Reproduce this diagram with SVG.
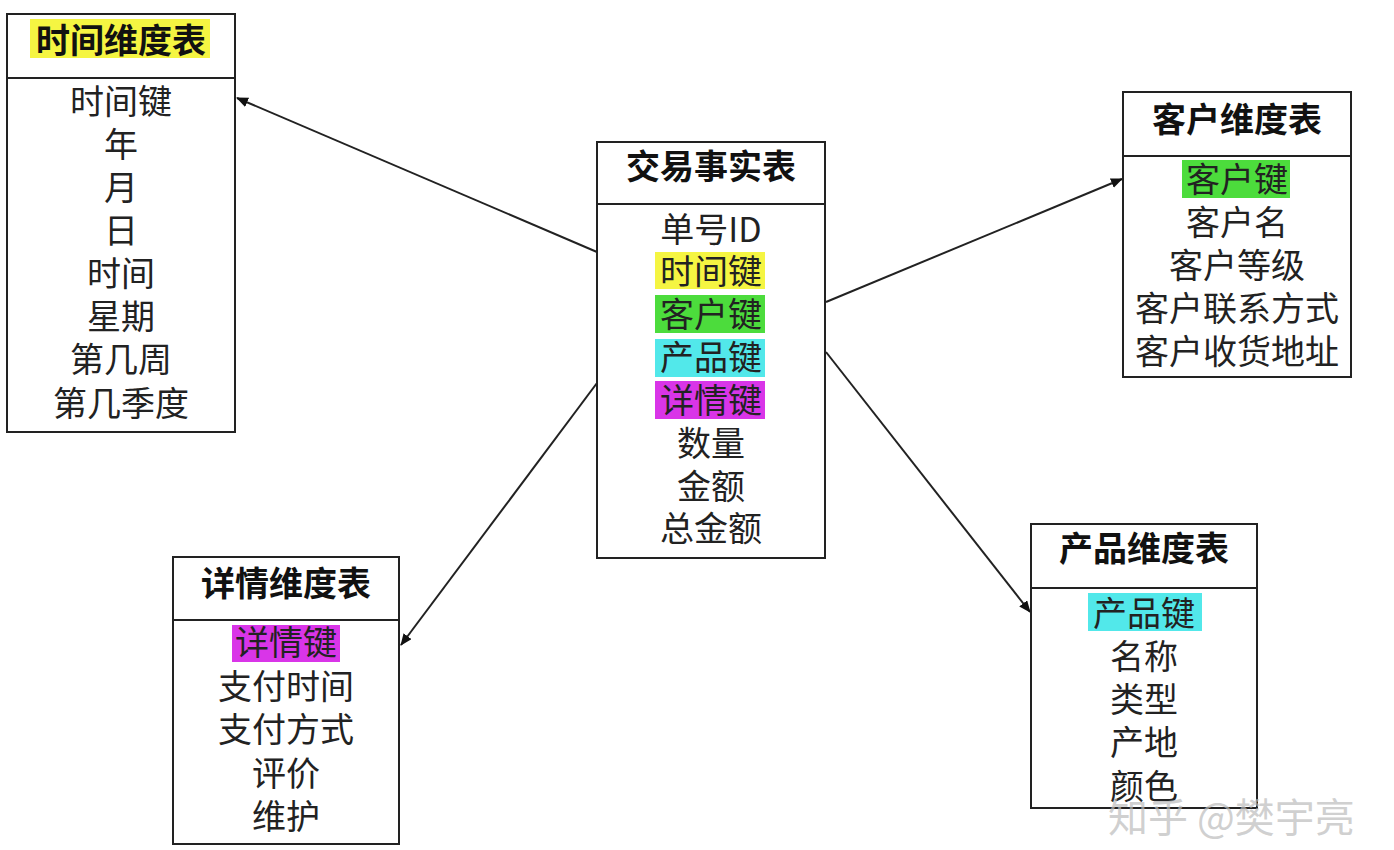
<svg xmlns="http://www.w3.org/2000/svg" width="1394" height="850" viewBox="0 0 1394 850">
<style>
.box{fill:#fff;stroke:#222;stroke-width:2}
.div{stroke:#222;stroke-width:2}
.t{font-family:"Noto Sans CJK SC","Noto Sans",sans-serif;font-size:34px;font-weight:bold;fill:#111;text-anchor:middle;dominant-baseline:central}
.r{font-family:"Noto Sans CJK SC","Noto Sans",sans-serif;font-size:34px;fill:#222;text-anchor:middle;dominant-baseline:central}
.c{stroke:#222;stroke-width:2;fill:none;marker-end:url(#ah)}
.wm{font-family:"Noto Sans CJK SC",sans-serif;font-size:40px;fill:#bbb;fill-opacity:0.7}
</style>
<defs>
<marker id="ah" markerWidth="12" markerHeight="10" refX="11" refY="5" orient="auto" markerUnits="userSpaceOnUse">
<path d="M0,0 L12,5 L0,10 Z" fill="#111"/>
</marker>
</defs>
<rect width="1394" height="850" fill="#fff"/>
<g id="connectors">
<line class="c" x1="597" y1="252" x2="237" y2="98"/>
<line class="c" x1="826" y1="302" x2="1122" y2="179"/>
<line class="c" x1="597" y1="383" x2="401" y2="645"/>
<line class="c" x1="826" y1="352" x2="1030" y2="612"/>
</g>
<g id="time">
<rect class="box" x="7" y="14" width="228" height="418"/>
<line class="div" x1="7" y1="78" x2="235" y2="78"/>
<rect x="30" y="19" width="180" height="39" fill="#f5f542"/>
<text class="t" x="121" y="38">时间维度表</text>
<text class="r" x="121" y="99">时间键</text>
<text class="r" x="121" y="142">年</text>
<text class="r" x="121" y="185">月</text>
<text class="r" x="121" y="228">日</text>
<text class="r" x="121" y="271">时间</text>
<text class="r" x="121" y="314">星期</text>
<text class="r" x="121" y="357">第几周</text>
<text class="r" x="121" y="401">第几季度</text>
</g>
<g id="fact">
<rect class="box" x="597" y="142" width="228" height="416"/>
<line class="div" x1="597" y1="204" x2="825" y2="204"/>
<text class="t" x="711" y="164">交易事实表</text>
<rect x="655" y="252" width="110" height="37" fill="#f5f542"/>
<rect x="655" y="295" width="110" height="38" fill="#4cdc3c"/>
<rect x="655" y="339" width="110" height="38" fill="#52e8ea"/>
<rect x="655" y="381" width="110" height="38" fill="#d935e8"/>
<text class="r" x="711" y="227">单号ID</text>
<text class="r" x="711" y="269">时间键</text>
<text class="r" x="711" y="312">客户键</text>
<text class="r" x="711" y="355">产品键</text>
<text class="r" x="711" y="398">详情键</text>
<text class="r" x="711" y="441">数量</text>
<text class="r" x="711" y="484">金额</text>
<text class="r" x="711" y="526">总金额</text>
</g>
<g id="customer">
<rect class="box" x="1123" y="92" width="228" height="285"/>
<line class="div" x1="1123" y1="156" x2="1351" y2="156"/>
<text class="t" x="1237" y="117">客户维度表</text>
<rect x="1182" y="160" width="108" height="38" fill="#4cdc3c"/>
<text class="r" x="1237" y="177">客户键</text>
<text class="r" x="1237" y="220">客户名</text>
<text class="r" x="1237" y="263">客户等级</text>
<text class="r" x="1237" y="306">客户联系方式</text>
<text class="r" x="1237" y="349">客户收货地址</text>
</g>
<g id="detail">
<rect class="box" x="173" y="557" width="226" height="287"/>
<line class="div" x1="173" y1="620" x2="399" y2="620"/>
<text class="t" x="286" y="581">详情维度表</text>
<rect x="232" y="625" width="108" height="37" fill="#d935e8"/>
<text class="r" x="286" y="640">详情键</text>
<text class="r" x="286" y="684">支付时间</text>
<text class="r" x="286" y="727">支付方式</text>
<text class="r" x="286" y="771">评价</text>
<text class="r" x="286" y="814">维护</text>
</g>
<g id="product">
<rect class="box" x="1031" y="524" width="226" height="284"/>
<line class="div" x1="1031" y1="588" x2="1257" y2="588"/>
<text class="t" x="1144" y="546">产品维度表</text>
<rect x="1088" y="593" width="114" height="38" fill="#52e8ea"/>
<text class="r" x="1144" y="611">产品键</text>
<text class="r" x="1144" y="654">名称</text>
<text class="r" x="1144" y="697">类型</text>
<text class="r" x="1144" y="740">产地</text>
<text class="r" x="1144" y="784">颜色</text>
</g>
<text class="wm" x="1108" y="832">知乎 @樊宇亮</text>
</svg>
